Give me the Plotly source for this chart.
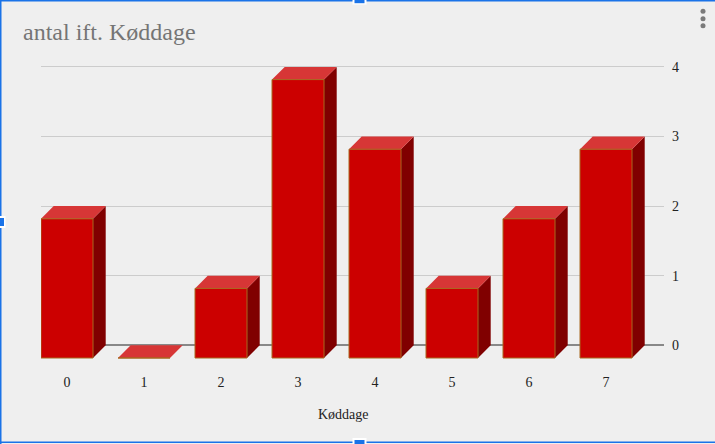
import plotly.graph_objects as go

# ---- data ----
categories = ["0", "1", "2", "3", "4", "5", "6", "7"]
values = [2, 0, 1, 4, 3, 1, 2, 3]
y_ticks = [0, 1, 2, 3, 4]
title_text = "antal ift. Køddage"
x_title = "Køddage"

# ---- geometry (pixels) ----
W, H = 715, 444
PL, PR, PT, PB = 41, 664, 60, 362      # plot area
CAT0, CAT_STEP = 67, 77                 # front-face centre of first category, spacing
Y0_PX, Y_UNIT = 345.3, 69.6             # back-plane zero and px per unit
DEPTH = 12.7                            # 3D depth offset in px
BAR_W_PX = 52

xr = [(PL - CAT0) / CAT_STEP, (PR - CAT0) / CAT_STEP]
yr = [(Y0_PX - PB) / Y_UNIT, (Y0_PX - PT) / Y_UNIT]
dx = DEPTH / CAT_STEP
dy = DEPTH / Y_UNIT
hw = BAR_W_PX / CAT_STEP / 2

FRONT = "#cc0000"
TOP = "#d73636"
SIDE = "#800000"
EDGE = "#a8681e"

fx, fy, tx, ty, sx, sy = [], [], [], [], [], []
for i, v in enumerate(values):
    x0, x1 = i - hw, i + hw
    fx += [x0, x1, x1, x0, x0, None]
    fy += [-dy, -dy, v - dy, v - dy, -dy, None]
    tx += [x0, x1, x1 + dx, x0 + dx, x0, None]
    ty += [v - dy, v - dy, v, v, v - dy, None]
    if v > 0:
        sx += [x1, x1 + dx, x1 + dx, x1, x1, None]
        sy += [-dy, 0, v, v - dy, -dy, None]

fig = go.Figure()
fig.add_trace(go.Scatter(x=sx, y=sy, fill="toself", fillcolor=SIDE, mode="lines",
                         line=dict(width=0, color=SIDE), hoverinfo="skip"))
fig.add_trace(go.Scatter(x=tx, y=ty, fill="toself", fillcolor=TOP, mode="lines",
                         line=dict(width=0, color=TOP), hoverinfo="skip"))
fig.add_trace(go.Scatter(x=fx, y=fy, fill="toself", fillcolor=FRONT, mode="lines",
                         line=dict(width=1, color=EDGE), hoverinfo="skip"))


def px2x(p):
    return (p - PL) / (PR - PL)


def px2y(p):
    return (PB - p) / (PB - PT)


shapes = []
BLUE = "#1a73e8"


def rect(x0, y0, x1, y1, color, line=None):
    shapes.append(dict(type="rect", xref="paper", yref="paper",
                       x0=px2x(x0), x1=px2x(x1), y0=px2y(y0), y1=px2y(y1),
                       fillcolor=color, line=dict(width=1 if line else 0, color=line or color),
                       layer="above"))


# selection border
rect(0, 0, 715, 1.5, BLUE)
rect(0, 0, 1.5, 444, BLUE)
rect(0, 441.5, 715, 443, BLUE)
# handles (white surround + blue)
rect(352.5, -1, 366.5, 4.5, "#ffffff")
rect(354.5, 0, 364.5, 3.2, BLUE)
rect(-1, 216, 5.5, 228, "#ffffff")
rect(0, 218, 4, 226, BLUE)
rect(352.5, 438, 366.5, 445, "#ffffff")
rect(354.5, 440, 364.5, 445, BLUE)
# kebab menu dots
for cy in [11.3, 18.7, 25.8]:
    shapes.append(dict(type="circle", xref="paper", yref="paper",
                       x0=px2x(700.5), x1=px2x(705.5), y0=px2y(cy - 2.5), y1=px2y(cy + 2.5),
                       fillcolor="#7a7a7a", line=dict(width=0), layer="above"))

SERIF = "Liberation Serif"
fig.update_layout(
    width=W, height=H,
    margin=dict(l=PL, r=W - PR, t=PT, b=H - PB, pad=0),
    paper_bgcolor="#efefef", plot_bgcolor="#efefef",
    showlegend=False,
    title=dict(text=title_text, x=23 / W, xanchor="left", xref="container",
               y=1 - 32 / H, yanchor="middle", yref="container",
               font=dict(family=SERIF, size=24, color="#757575")),
    xaxis=dict(range=xr, tickvals=list(range(len(categories))), ticktext=categories,
               showgrid=False, zeroline=False, showline=False, ticks="",
               ticklabelstandoff=10,
               tickfont=dict(family=SERIF, size=14, color="#222222"), fixedrange=True),
    yaxis=dict(range=yr, tickvals=y_ticks, side="right", showgrid=True,
               gridcolor="#cccccc", gridwidth=1, zeroline=True, zerolinecolor="#888888",
               zerolinewidth=2, showline=False, ticks="", ticklabelstandoff=7,
               tickfont=dict(family=SERIF, size=14, color="#222222"), fixedrange=True),
    annotations=[dict(text=x_title, xref="paper", yref="paper",
                      x=px2x(343), y=px2y(414), xanchor="center", yanchor="middle",
                      showarrow=False, font=dict(family=SERIF, size=14, color="#222222"))],
    shapes=shapes,
)

fig.write_html("out.html", config=dict(displayModeBar=False),
               post_script="document.body.style.margin='0';")
